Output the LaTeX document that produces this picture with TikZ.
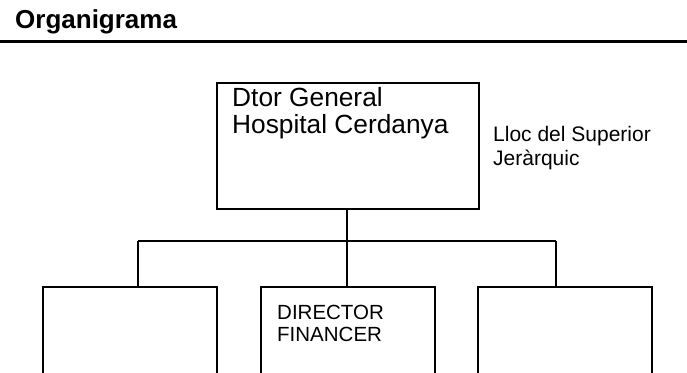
\documentclass[tikz,border=0pt]{standalone}
\usepackage{fontspec}
\setmainfont{Liberation Sans}
\begin{document}
\begin{tikzpicture}[x=1pt,y=-1pt,
  box/.style={draw=black,line width=2pt,rectangle,inner sep=0pt,anchor=north west},
  conn/.style={draw=black,line width=2pt},
  txt/.style={anchor=base west,inner sep=0pt},
  big/.style={txt,font=\fontsize{26.3}{28}\selectfont},
  mid/.style={txt,font=\fontsize{21}{24}\selectfont},
  small/.style={txt,font=\fontsize{20.5}{23}\selectfont}]
\useasboundingbox (0,0) rectangle (687,372);
% title and rule
\node[txt,font=\fontsize{26}{30}\selectfont\bfseries] (title) at (15,28) {Organigrama};
\coordinate (rl) at (0,41.5);
\coordinate (rr) at (687,41.5);
\draw[line width=3pt] (rl) -- (rr);
% top box
\node[box,minimum width=262pt,minimum height=126pt] (top) at (216,82) {};
\node[big] (t1) at (232,106) {Dtor General};
\node[big] (t2) at (232,133) {Hospital Cerdanya};
\node[mid] (l1) at (493,141) {Lloc del Superior};
\node[mid] (l2) at (493,165) {Jer\`arquic};
% bottom boxes
\node[box,minimum width=174pt,minimum height=88pt] (lb) at (42,286) {};
\node[box,minimum width=174pt,minimum height=88pt] (mb) at (260,286) {};
\node[box,minimum width=174pt,minimum height=88pt] (rb) at (477,286) {};
\node[small] (m1) at (277,319) {DIRECTOR};
\node[small] (m2) at (277,341.5) {FINANCER};
% connectors
\coordinate (bus) at (347,241);
\coordinate (busl) at (138,241);
\coordinate (busr) at (556,241);
\draw[conn] (bus |- top.south) -- (bus);
\draw[conn] (busl) -- (busr);
\draw[conn] (busl) -- (busl |- lb.north);
\draw[conn] (bus) -- (bus |- mb.north);
\draw[conn] (busr) -- (busr |- rb.north);
\end{tikzpicture}
\end{document}
